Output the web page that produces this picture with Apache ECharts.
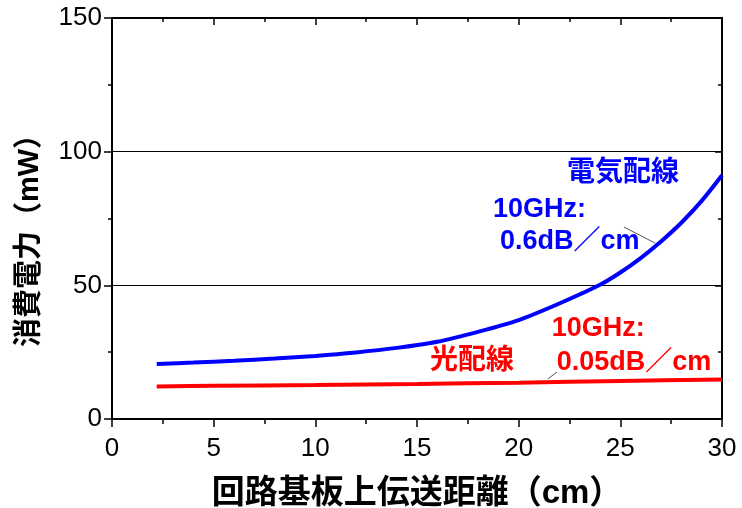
<!DOCTYPE html>
<html>
<head>
<meta charset="utf-8">
<script src="https://cdn.jsdelivr.net/npm/echarts@6/dist/echarts.min.js"></script>
<style>
html,body{margin:0;padding:0;background:#fff;}
#chart{width:742px;height:508px;}
</style>
</head>
<body>
<div id="chart"></div>
<script>
// ---- data ----
const xTicks = [0, 5, 10, 15, 20, 25, 30];
const yTicks = [0, 50, 100, 150];
const distElectrical = [2.2, 4, 6, 8, 10, 12, 14, 16, 18, 20, 22, 24, 25, 26, 27, 28, 29, 30];
const powerElectrical = [20.6, 21.1, 21.8, 22.6, 23.6, 24.9, 26.6, 28.9, 32.6, 37.0, 43.2, 50.2, 54.8, 60.2, 66.4, 73.4, 81.6, 91.2];
const distOptical = [2.2, 5, 10, 15, 20, 25, 30];
const powerOptical = [12.2, 12.4, 12.7, 13.1, 13.6, 14.2, 14.8];
const xName = '回路基板上伝送距離（cm）';
const yName = '消費電力（mW）';

const FONT = "'Liberation Sans', 'Noto Sans CJK JP', sans-serif";
const chart = echarts.init(document.getElementById('chart'), null, {renderer: 'canvas'});

function pairs(xs, ys) { return xs.map((x, i) => [x, ys[i]]); }

const axisLineStyle = {color: '#000', width: 2};
const tickStyle = {color: '#000', width: 1.5};

const option = {
  animation: false,
  backgroundColor: '#fff',
  grid: {left: 112, right: 20, top: 18, bottom: 89, containLabel: false, outerBoundsMode: 'none'},
  xAxis: [
    {
      type: 'value', min: xTicks[0], max: xTicks[xTicks.length - 1], interval: 5,
      position: 'bottom',
      name: xName, nameLocation: 'middle', nameGap: 58,
      nameTextStyle: {fontFamily: FONT, fontSize: 33, fontWeight: 'bold', color: '#000'},
      axisLine: {show: true, onZero: false, lineStyle: axisLineStyle},
      axisTick: {show: true, inside: false, length: 8, lineStyle: tickStyle},
      minorTick: {show: true, splitNumber: 2, length: 5, lineStyle: tickStyle},
      axisLabel: {fontFamily: FONT, fontSize: 26, color: '#000', margin: 17},
      splitLine: {show: false}
    },
    {
      type: 'value', min: xTicks[0], max: xTicks[xTicks.length - 1], interval: 5,
      position: 'top',
      axisLine: {show: true, onZero: false, lineStyle: axisLineStyle},
      axisTick: {show: true, inside: true, length: 7, lineStyle: tickStyle},
      minorTick: {show: true, splitNumber: 2, length: 4, lineStyle: tickStyle},
      axisLabel: {show: false},
      splitLine: {show: false}
    }
  ],
  yAxis: [
    {
      type: 'value', min: yTicks[0], max: yTicks[yTicks.length - 1], interval: 50,
      position: 'left',
      name: yName, nameLocation: 'middle', nameGap: 67, nameRotate: 90,
      nameTextStyle: {fontFamily: FONT, fontSize: 29, fontWeight: 'bold', color: '#000', padding: [0, 30, 0, 0]},
      axisLine: {show: true, onZero: false, lineStyle: axisLineStyle},
      axisTick: {show: true, inside: false, length: 8, lineStyle: tickStyle},
      minorTick: {show: true, splitNumber: 2, length: 4, lineStyle: tickStyle},
      axisLabel: {fontFamily: FONT, fontSize: 26, color: '#000', margin: 10},
      splitLine: {show: true, lineStyle: {color: '#000', width: 1}}
    },
    {
      type: 'value', min: yTicks[0], max: yTicks[yTicks.length - 1], interval: 50,
      position: 'right',
      axisLine: {show: true, onZero: false, lineStyle: axisLineStyle},
      axisTick: {show: true, inside: true, length: 7, lineStyle: tickStyle},
      minorTick: {show: true, splitNumber: 2, length: 4, lineStyle: tickStyle},
      axisLabel: {show: false},
      splitLine: {show: false}
    }
  ],
  series: [
    {
      name: '電気配線', type: 'line', xAxisIndex: 0, yAxisIndex: 0,
      data: pairs(distElectrical, powerElectrical),
      smooth: 0.3, showSymbol: false,
      lineStyle: {color: '#0000ff', width: 4}
    },
    {
      name: '光配線', type: 'line', xAxisIndex: 0, yAxisIndex: 0,
      data: pairs(distOptical, powerOptical),
      smooth: 0.3, showSymbol: false,
      lineStyle: {color: '#ff0000', width: 4}
    }
  ]
};
chart.setOption(option);

// ---- annotations (anchored in data coordinates) ----
const BLUE = '#0000ff', RED = '#ff0000';
const texts = [
  {text: '電気配線', at: [22.38, 92.0], color: BLUE, size: 28},
  {text: '10GHz:', at: [18.74, 78.2], color: BLUE, size: 27},
  {text: '0.6dB／cm', at: [19.08, 66.2], color: BLUE, size: 27},
  {text: '10GHz:', at: [21.63, 33.7], color: RED, size: 27},
  {text: '0.05dB／cm', at: [21.87, 21.3], color: RED, size: 27},
  {text: '光配線', at: [15.64, 21.7], color: RED, size: 28}
];
const leaders = [
  {from: [25.18, 71.8], to: [26.71, 65.8]},
  {from: [21.44, 15.0], to: [21.89, 17.6]}
];
const graphics = [];
texts.forEach(t => {
  const p = chart.convertToPixel({xAxisIndex: 0, yAxisIndex: 0}, t.at);
  graphics.push({
    type: 'text', x: p[0], y: p[1], z: 100,
    style: {text: t.text, fill: t.color, fontFamily: FONT, fontSize: t.size, fontWeight: 'bold',
            align: 'left', verticalAlign: 'middle'}
  });
});
leaders.forEach(l => {
  const a = chart.convertToPixel({xAxisIndex: 0, yAxisIndex: 0}, l.from);
  const b = chart.convertToPixel({xAxisIndex: 0, yAxisIndex: 0}, l.to);
  graphics.push({type: 'line', z: 100, shape: {x1: a[0], y1: a[1], x2: b[0], y2: b[1]},
                 style: {stroke: '#555', lineWidth: 1}});
});
chart.setOption({graphic: graphics});
</script>
</body>
</html>
